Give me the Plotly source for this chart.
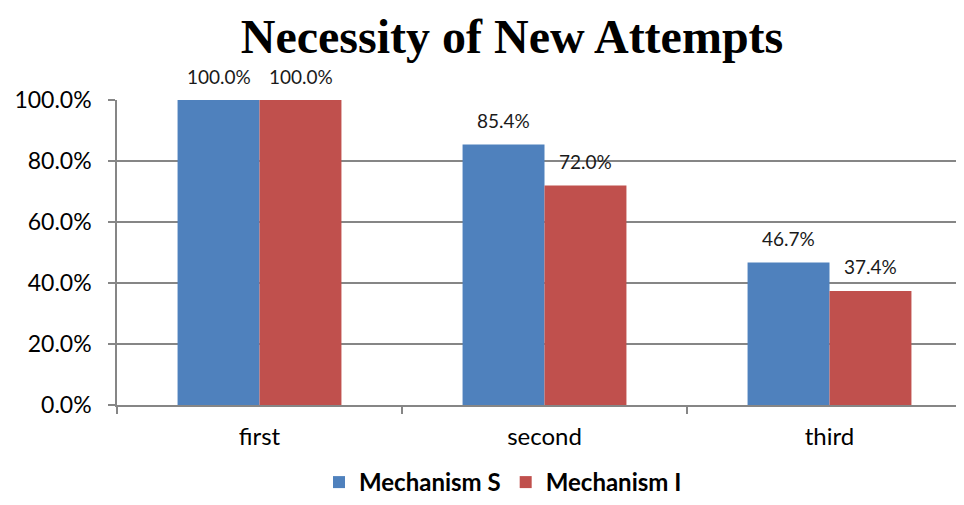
import plotly.graph_objects as go

categories = ["first", "second", "third"]
mech_s = [1.0, 0.854, 0.467]
mech_i = [1.0, 0.720, 0.374]
series_names = ["Mechanism S", "Mechanism I"]
colors = ["#4F81BD", "#C0504D"]
y_ticks = [0, 0.2, 0.4, 0.6, 0.8, 1.0]

FONT = "Lato"
OFF = 8  # page body margin
W, H = 964 - OFF, 505 - OFF
CAT_W = 285  # pixels per category
fig = go.Figure()
for k, (name, vals, col) in enumerate(zip(series_names, [mech_s, mech_i], colors)):
    fig.add_trace(go.Bar(
        x=categories, y=vals, name=f"<b>{name}</b>", marker=dict(color=col, line=dict(width=0)),
    ))
    shift = (-1 if k == 0 else 1) * 41
    for c, v in zip(categories, vals):
        fig.add_annotation(x=c, y=v, xref="x", yref="y", text=f"{v*100:.1f}%", showarrow=False,
                           xshift=shift, yshift=24, yanchor="middle",
                           font=dict(family=FONT, size=19, color="#1a1a1a"))

fig.update_layout(
    width=W, height=H,
    margin=dict(l=117 - OFF, r=0, t=100 - OFF, b=100, autoexpand=False),
    paper_bgcolor="white", plot_bgcolor="white",
    barmode="group", bargap=0.425, bargroupgap=0,
    title=dict(text="<b>Necessity of New Attempts</b>", x=(512 - OFF) / W, xref="container",
               xanchor="center", y=1 - (36 - OFF) / H, yref="container", yanchor="middle",
               font=dict(family="Liberation Serif", size=48, color="black")),
    legend=dict(orientation="h", xref="container", yref="container", x=(503 - OFF) / W, xanchor="center",
                y=0, yanchor="bottom", font=dict(family=FONT, size=24, color="black"),
                traceorder="normal", itemwidth=30),
    font=dict(family=FONT, color="black"),
)
fig.update_xaxes(range=[-0.5, -0.5 + (964 - 117) / CAT_W], showline=True, linecolor="#868686", linewidth=1.5,
                 ticks="outside", tickson="boundaries", ticklen=7, tickcolor="#868686", tickwidth=1.5,
                 ticklabelstandoff=9, automargin=False,
                 tickfont=dict(family=FONT, size=24, color="black"), showgrid=False)
fig.update_yaxes(range=[0, 1], tickvals=y_ticks, tickformat=".1%", showline=True, linecolor="#868686",
                 linewidth=1.5, ticks="outside", ticklen=7, tickcolor="#868686", tickwidth=1.5,
                 gridcolor="#868686", gridwidth=1.5, zeroline=False, automargin=False,
                 ticklabelstandoff=12,
                 tickfont=dict(family=FONT, size=23, color="black"))
fig.write_html("out.html")
